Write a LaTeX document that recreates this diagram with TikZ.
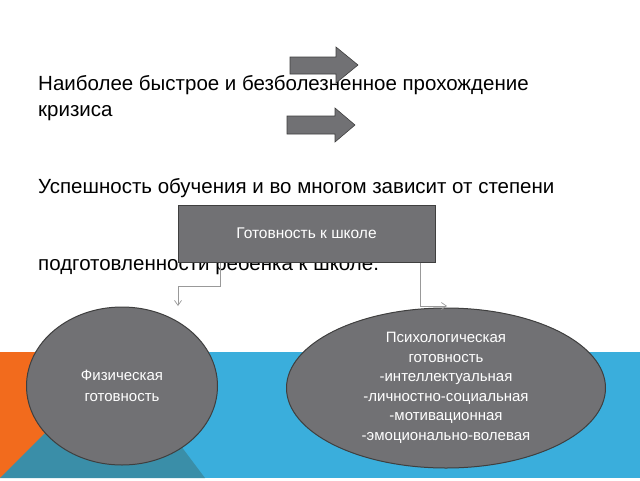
\documentclass[tikz,border=0pt]{standalone}
\usepackage{fontspec}
\setmainfont{Liberation Sans}
\usetikzlibrary{arrows.meta,shapes.geometric}
\definecolor{bg1}{HTML}{3AAEDC}
\definecolor{bg2}{HTML}{F26B1D}
\definecolor{bg3}{HTML}{3A8EA8}
\definecolor{gfill}{HTML}{717174}
\definecolor{gline}{HTML}{3F3F3F}
\tikzset{
  shapebox/.style={fill=gfill,draw=gline,line width=1pt,text=white,font=\fontsize{15.5}{19}\selectfont,align=center},
  conn/.style={draw=gray!80,line width=0.7pt,-{Straight Barb[length=5pt,width=7pt]}},
  bigtext/.style={anchor=base west,font=\fontsize{20.5}{24}\selectfont,inner sep=0pt},
  blockarrow/.style={fill=gfill,draw=gline,line width=0.6pt}
}
\begin{document}
\begin{tikzpicture}[x=1pt,y=-1pt]
\useasboundingbox (0,0) rectangle (640,480);
\fill[bg1] (0,352) rectangle (640,478);
\fill[bg2] (0,352) -- (45,352) -- (45,440) -- (0,478) -- cycle;
\fill[bg3] (0,478) -- (60,418) -- (160,418) -- (205,478) -- cycle;
\node[bigtext] (t1) at (38,90) {Наиболее быстрое и безболезненное прохождение};
\node[bigtext] (t2) at (38,116) {кризиса};
\node[bigtext] (t3) at (38,193) {Успешность обучения и во многом зависит от степени};
\node[bigtext] (t4) at (38,270) {подготовленности ребенка к школе.};
\draw[blockarrow] (290,57) -- (336,57) -- (336,47) -- (358,65) -- (336,83) -- (336,74) -- (290,74) -- cycle;
\draw[blockarrow] (287,116) -- (335,116) -- (335,108) -- (355,125) -- (335,142) -- (335,134) -- (287,134) -- cycle;
\node[shapebox,minimum width=257pt,minimum height=57pt] (box) at (306.5,233.5) {Готовность к школе};
\node[shapebox,ellipse,minimum width=191pt,minimum height=158pt,inner sep=0pt,font=\fontsize{15}{21}\selectfont] (phys) at (122,386) {Физическая\\готовность};
\node[shapebox,ellipse,minimum width=319pt,minimum height=160pt,inner sep=0pt,font=\fontsize{15}{19.5}\selectfont] (psy) at (446,388) {Психологическая\\готовность\\-интеллектуальная\\-личностно-социальная\\-мотивационная\\-эмоционально-волевая};
\coordinate (c1) at (178,306);
\coordinate (c2) at (447,306);
\draw[conn] ([xshift=-86pt]box.south) |- (178,286) -- (c1);
\draw[conn] ([xshift=114pt]box.south) |- (c2);
\end{tikzpicture}
\end{document}
